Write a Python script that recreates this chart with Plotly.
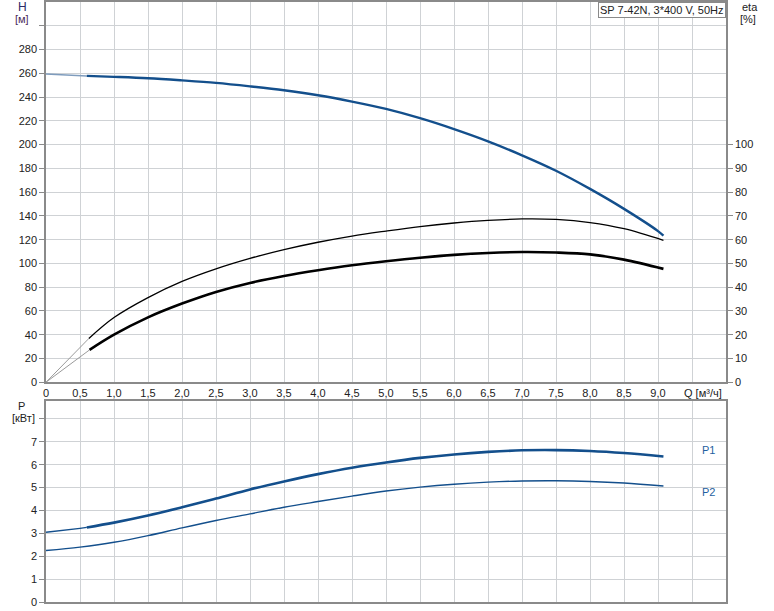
import plotly.graph_objects as go

# ---------------- data ----------------
q_h = [0, 0.6, 1.0, 1.5, 2.0, 2.5, 3.0, 3.5, 4.0, 4.5, 5.0, 5.5, 6.0, 6.5, 7.0, 7.5, 8.0, 8.5, 9.0, 9.08]
h_vals = [259.4, 257.8, 257.0, 255.8, 254.0, 251.9, 249.0, 245.7, 241.5, 236.2, 230.0, 222.2, 213.0,
          202.7, 191.0, 178.0, 162.7, 145.9, 127.2, 123.3]

q_eta1 = [0, 0.63, 1.0, 1.5, 2.0, 2.5, 3.0, 3.5, 4.0, 4.5, 5.0, 5.5, 6.0, 6.5, 7.0, 7.5, 8.0, 8.5, 9.08]
eta1_vals = [0, 18.4, 27.2, 35.6, 42.4, 47.7, 52.1, 55.8, 58.9, 61.5, 63.6, 65.5, 67.0, 68.1, 68.7,
             68.5, 67.2, 64.6, 59.7]

q_eta2 = [0, 0.64, 1.0, 1.5, 2.0, 2.5, 3.0, 3.5, 4.0, 4.5, 5.0, 5.5, 6.0, 6.5, 7.0, 7.5, 8.0, 8.5, 9.08]
eta2_vals = [0, 13.6, 20.0, 27.3, 33.1, 38.0, 41.8, 44.7, 47.1, 49.2, 50.9, 52.4, 53.6, 54.4, 54.8,
             54.6, 53.8, 51.6, 47.7]

q_p1 = [0, 0.5, 0.6, 1.0, 1.5, 2.0, 2.5, 3.0, 3.5, 4.0, 4.5, 5.0, 5.5, 6.0, 6.5, 7.0, 7.5, 8.0, 8.5, 9.08]
p1_vals = [3.05, 3.22, 3.26, 3.47, 3.78, 4.14, 4.52, 4.92, 5.27, 5.59, 5.87, 6.10, 6.30, 6.45, 6.56,
           6.63, 6.64, 6.60, 6.51, 6.36]

q_p2 = [0, 0.5, 1.0, 1.5, 2.0, 2.5, 3.0, 3.5, 4.0, 4.5, 5.0, 5.5, 6.0, 6.5, 7.0, 7.5, 8.0, 8.5, 9.08]
p2_vals = [2.25, 2.40, 2.61, 2.90, 3.24, 3.56, 3.85, 4.14, 4.39, 4.63, 4.85, 5.02, 5.15, 5.24, 5.29,
           5.30, 5.27, 5.20, 5.07]

start_idx_h = 1      # curves drawn thin before this point
start_idx_eta = 1
start_idx_p1 = 2

x_ticks = [0, 0.5, 1, 1.5, 2, 2.5, 3, 3.5, 4, 4.5, 5, 5.5, 6, 6.5, 7, 7.5, 8, 8.5, 9, 9.5]
x_labels = ["0", "0,5", "1,0", "1,5", "2,0", "2,5", "3,0", "3,5", "4,0", "4,5", "5,0", "5,5",
            "6,0", "6,5", "7,0", "7,5", "8,0", "8,5", "9,0", ""]
h_ticks = list(range(0, 320, 20))
h_labels = [str(v) for v in range(0, 300, 20)] + [""]
eta_ticks = list(range(0, 110, 10))
p_ticks = list(range(0, 9))
p_labels = [str(v) for v in range(0, 8)] + [""]

title_text = "SP 7-42N, 3*400 V, 50Hz"

# ---------------- figure ----------------
BLUE = "#134f8c"
FONT = "Liberation Sans, Arial, sans-serif"
GRID = "#cfd2d5"
AX = "#8a8a8a"

fig = go.Figure()

def seg(xs, ys, a, b):
    return xs[a:b], ys[a:b]

# H curve
x0, y0 = seg(q_h, h_vals, 0, start_idx_h + 1)
fig.add_trace(go.Scatter(x=x0, y=y0, mode="lines", line=dict(color="#7f9cbd", width=1.5),
                         xaxis="x", yaxis="y", showlegend=False, hoverinfo="skip"))
x1, y1 = seg(q_h, h_vals, start_idx_h, None)
fig.add_trace(go.Scatter(x=x1, y=y1, mode="lines", line=dict(color=BLUE, width=2.4, shape="spline"),
                         xaxis="x", yaxis="y", showlegend=False))

# eta curves (right axis)
for qs, vs, w in [(q_eta1, eta1_vals, 1.3), (q_eta2, eta2_vals, 2.6)]:
    a, b = seg(qs, vs, 0, start_idx_eta + 1)
    fig.add_trace(go.Scatter(x=a, y=b, mode="lines", line=dict(color="#9a9a9a", width=1),
                             xaxis="x", yaxis="y2", showlegend=False, hoverinfo="skip"))
    a, b = seg(qs, vs, start_idx_eta, None)
    fig.add_trace(go.Scatter(x=a, y=b, mode="lines", line=dict(color="#000000", width=w, shape="spline"),
                             xaxis="x", yaxis="y2", showlegend=False))

# P1 / P2
a, b = seg(q_p1, p1_vals, 0, start_idx_p1 + 1)
fig.add_trace(go.Scatter(x=a, y=b, mode="lines", line=dict(color=BLUE, width=1.4, shape="spline"),
                         xaxis="x2", yaxis="y3", showlegend=False))
a, b = seg(q_p1, p1_vals, start_idx_p1, None)
fig.add_trace(go.Scatter(x=a, y=b, mode="lines", line=dict(color=BLUE, width=2.6, shape="spline"),
                         xaxis="x2", yaxis="y3", showlegend=False))
fig.add_trace(go.Scatter(x=q_p2, y=p2_vals, mode="lines", line=dict(color=BLUE, width=1.4, shape="spline"),
                         xaxis="x2", yaxis="y3", showlegend=False))

W, H = 774, 611
ML, MR, MT, MB = 46, 48, 0, 9
PW, PH = W - ML - MR, H - MT - MB

def px(xp):
    return (xp - ML) / PW

def py(yp):
    return (H - MB - yp) / PH

top_dom = [py(381.5), 1.0]
bot_dom = [0.0, py(400)]

tickfont = dict(family=FONT, size=11, color="#222222")
axis_common = dict(showline=True, linecolor=AX, linewidth=1.5, gridcolor=GRID, gridwidth=1.2,
                   zeroline=False, tickfont=tickfont)

fig.update_layout(
    width=W, height=H,
    margin=dict(l=ML, r=MR, t=MT, b=MB),
    paper_bgcolor="white", plot_bgcolor="white",
    font=dict(family=FONT, size=11, color="#222222"),
    showlegend=False,
    xaxis=dict(axis_common, range=[0, 10], domain=[0, 1], anchor="y", tickmode="array",
               tickvals=x_ticks, ticktext=x_labels, ticks="", mirror=True, showgrid=True),
    yaxis=dict(axis_common, range=[0, 320], domain=top_dom, anchor="x", tickmode="array",
               tickvals=h_ticks, ticktext=h_labels, ticks="outside", ticklen=5, tickcolor=AX,
               showgrid=True),
    yaxis2=dict(axis_common, range=[0, 160], overlaying="y", side="right", anchor="x",
                tickmode="array", tickvals=eta_ticks, ticks="outside", ticklen=5, tickcolor=AX,
                showgrid=False),
    xaxis2=dict(axis_common, range=[0, 10], domain=[0, 1], anchor="y3", matches="x",
                tickmode="array", tickvals=x_ticks, showticklabels=False, ticks="", mirror=True,
                showgrid=True),
    yaxis3=dict(axis_common, range=[0, 8.8], domain=bot_dom, anchor="x2", tickmode="array",
                tickvals=p_ticks, ticktext=p_labels, ticks="outside", ticklen=5, tickcolor=AX,
                mirror=True, showgrid=True),
)

def ann(text, xp, yp, color="#222222", size=11, xanchor="center", yanchor="middle", **kw):
    fig.add_annotation(text=text, x=px(xp), y=py(yp), xref="paper", yref="paper",
                       showarrow=False, xanchor=xanchor, yanchor=yanchor,
                       font=dict(family=FONT, size=size, color=color), **kw)

ann("H", 22, 5, color="#2a2a66", size=12)
ann("[м]", 22, 17, color="#4a2a5a")
ann("eta", 750, 5)
ann("[%]", 748, 17)
ann("P", 21, 405)
ann("[кВт]", 23, 417)
ann("Q [м³/ч]", 703, 392)
ann("P1", 708, 449, color="#1f5fa0")
ann("P2", 708, 492, color="#1f5fa0")
fig.add_annotation(text=title_text, x=1.0, y=1.0, xref="paper", yref="paper", showarrow=False,
                   xanchor="right", yanchor="top", bgcolor="white", bordercolor="#8a8a8a",
                   borderwidth=1, borderpad=1, font=dict(family=FONT, size=11, color="#222222"))

fig.write_html("out.html", config={"displayModeBar": False},
               post_script="document.body.style.margin='0';")
